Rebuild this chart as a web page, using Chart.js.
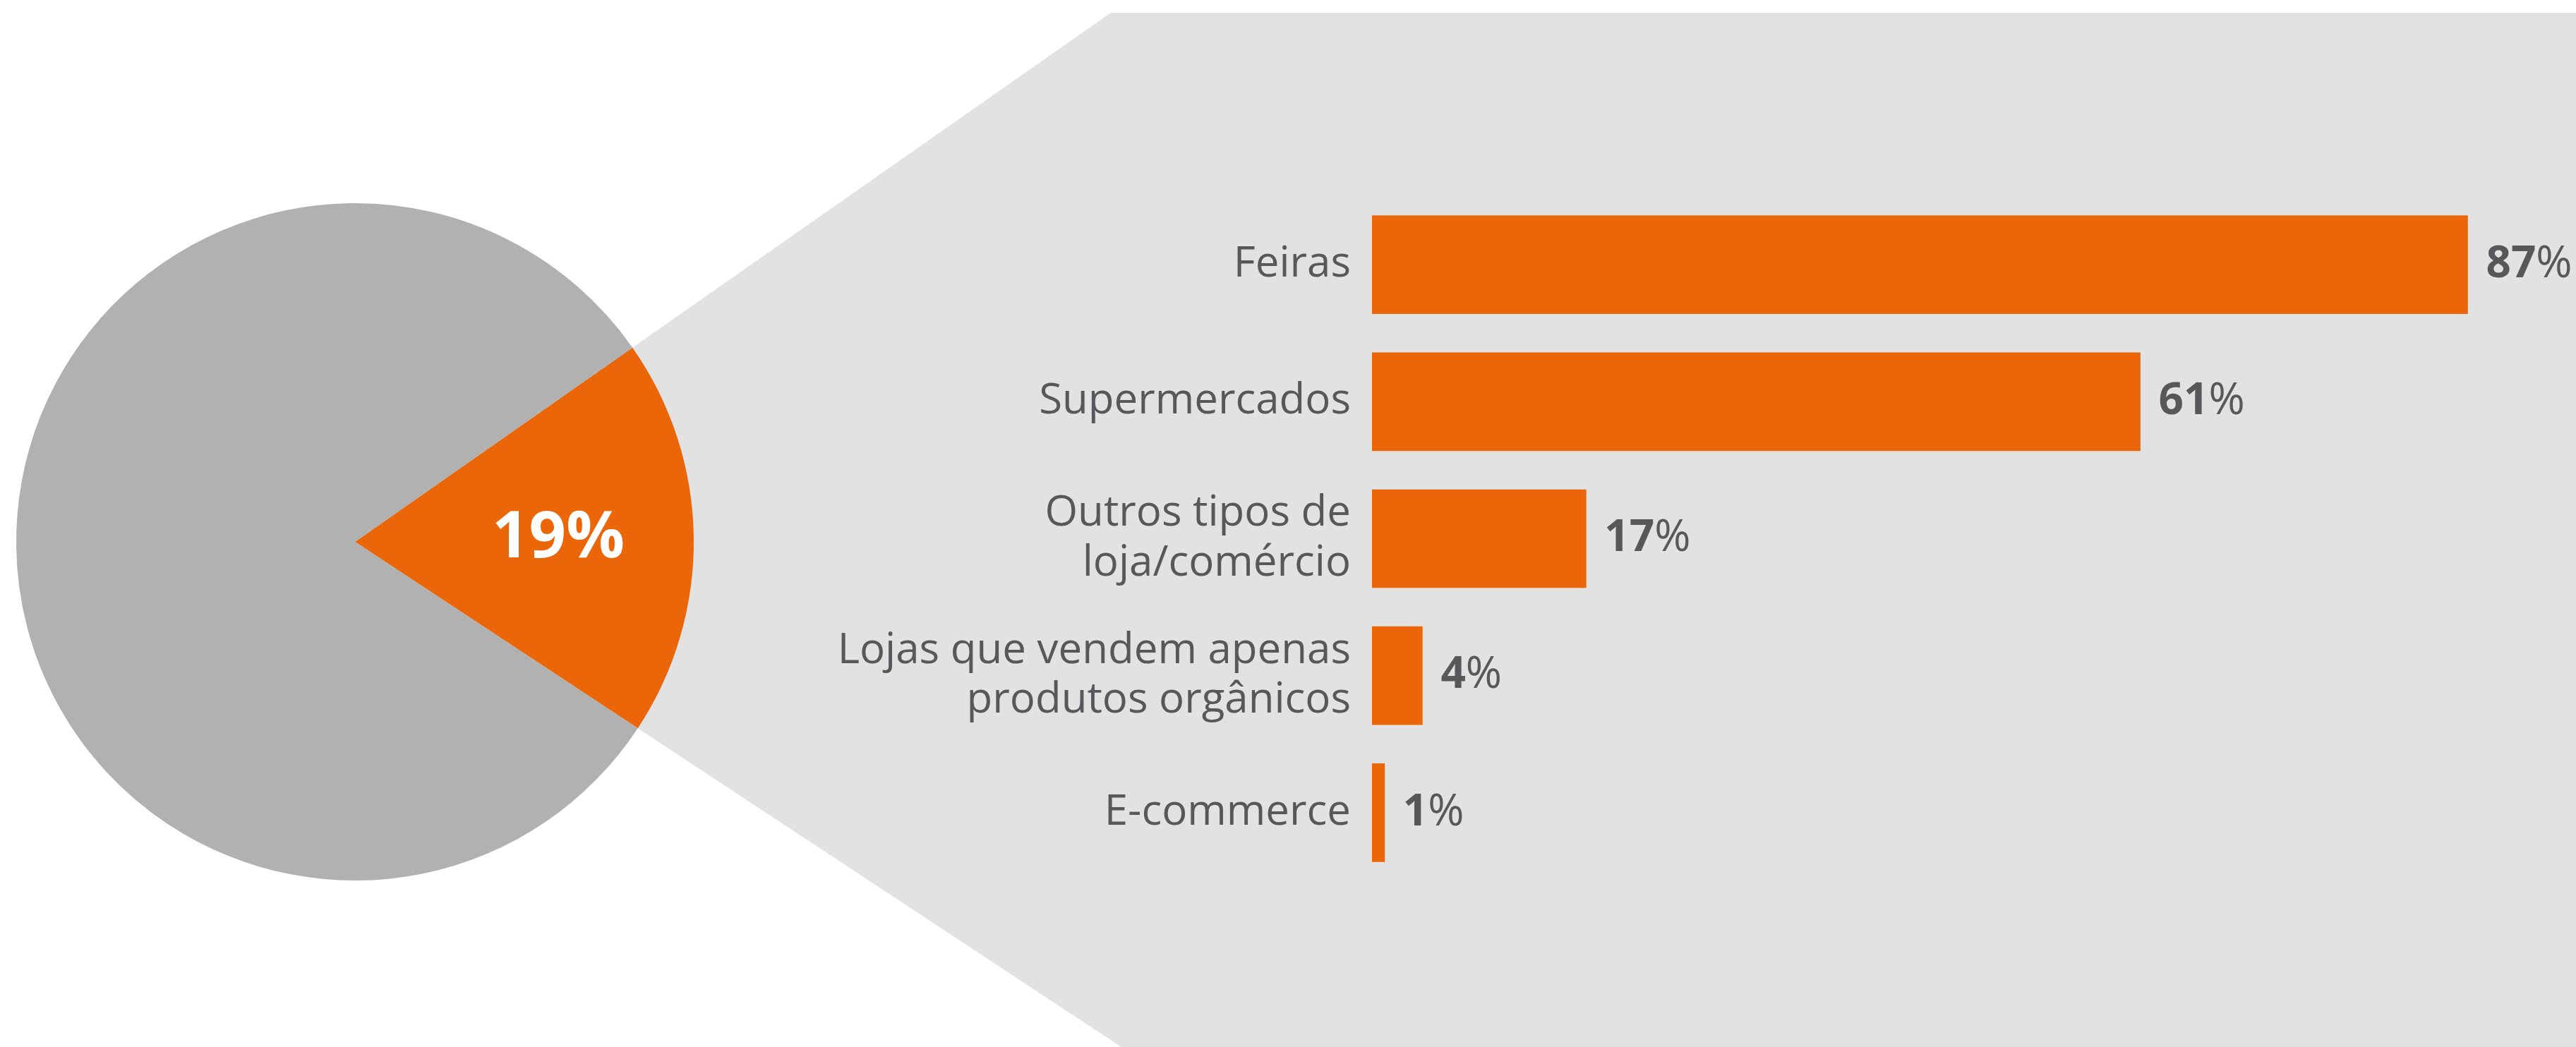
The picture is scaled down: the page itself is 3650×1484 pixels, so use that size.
<!DOCTYPE html>
<html>
<head>
<meta charset="utf-8">
<script src="https://cdn.jsdelivr.net/npm/chart.js@4"></script>
<style>
  html, body { margin: 0; padding: 0; background: #fff; }
  #wrap { position: relative; width: 3650px; height: 1484px; overflow: hidden; }
  canvas { position: absolute; top: 0; }
  #pieChart { left: 0; }
  #barChart { left: 1100px; }
</style>
</head>
<body>
<div id="wrap">
  <canvas id="pieChart" width="3650" height="1484"></canvas>
  <canvas id="barChart" width="2550" height="1484"></canvas>
</div>
<script>
/* data */
const pieLabels = ['Sim', 'Não'];
const pieValues = [19, 81];
const barLabels = [
  ['Feiras'],
  ['Supermercados'],
  ['Outros tipos de', 'loja/comércio'],
  ['Lojas que vendem apenas', 'produtos orgânicos'],
  ['E-commerce'],
];
const barValues = [87, 61, 17, 4, 1];

const ORANGE = '#eb6608';
const PIE_GREY = '#b1b1b1';
const BG_GREY = '#e2e2e2';
const TEXT = '#58585a';
const FONT = '"Open Sans", Lato, sans-serif';

/* grey wedge behind the bars, continuing the orange slice edges */
const wedgeBg = {
  id: 'wedgeBg',
  beforeDatasetsDraw(chart) {
    const arc = chart.getDatasetMeta(0).data[0];
    const { x, y, startAngle, endAngle } = arc.getProps(['x', 'y', 'startAngle', 'endAngle'], true);
    const { ctx, width, height } = chart;
    const top = 18;
    const t1 = (top - y) / Math.sin(startAngle);
    const t2 = (height - y) / Math.sin(endAngle);
    ctx.save();
    ctx.fillStyle = BG_GREY;
    ctx.beginPath();
    ctx.moveTo(x, y);
    ctx.lineTo(x + Math.cos(startAngle) * t1, top);
    ctx.lineTo(width, top);
    ctx.lineTo(width, height);
    ctx.lineTo(x + Math.cos(endAngle) * t2, height);
    ctx.closePath();
    ctx.fill();
    ctx.restore();
  },
  afterDatasetsDraw(chart) {
    const arc = chart.getDatasetMeta(0).data[0];
    const { x, y, startAngle, endAngle, outerRadius } =
      arc.getProps(['x', 'y', 'startAngle', 'endAngle', 'outerRadius'], true);
    const mid = (startAngle + endAngle) / 2;
    const ctx = chart.ctx;
    ctx.save();
    ctx.fillStyle = '#fff';
    ctx.font = `bold 92px ${FONT}`;
    ctx.textAlign = 'center';
    ctx.textBaseline = 'middle';
    ctx.fillText(pieValues[0] + '%', x + Math.cos(mid) * outerRadius * 0.6, y + Math.sin(mid) * outerRadius * 0.6);
    ctx.restore();
  },
};

new Chart(document.getElementById('pieChart'), {
  type: 'pie',
  data: {
    labels: pieLabels,
    datasets: [{
      data: pieValues,
      backgroundColor: [ORANGE, PIE_GREY],
      borderWidth: 0,
    }],
  },
  options: {
    responsive: false,
    animation: false,
    rotation: 55,
    layout: { padding: { left: 23, right: 2667, top: 288, bottom: 236 } },
    plugins: { legend: { display: false }, tooltip: { enabled: false } },
  },
  plugins: [wedgeBg],
});

/* value labels at the end of each bar: bold number, regular % */
const valueLabels = {
  id: 'valueLabels',
  afterDatasetsDraw(chart) {
    const ctx = chart.ctx;
    ctx.save();
    ctx.fillStyle = TEXT;
    ctx.textBaseline = 'middle';
    ctx.textAlign = 'left';
    chart.getDatasetMeta(0).data.forEach((bar, i) => {
      const num = String(barValues[i]);
      let x = bar.x + 26;
      ctx.font = `bold 62px ${FONT}`;
      ctx.fillText(num, x, bar.y);
      x += ctx.measureText(num).width;
      ctx.font = `62px ${FONT}`;
      ctx.fillText('%', x, bar.y);
    });
    ctx.restore();
  },
};

new Chart(document.getElementById('barChart'), {
  type: 'bar',
  data: {
    labels: barLabels,
    datasets: [{
      data: barValues,
      backgroundColor: ORANGE,
      barThickness: 139,
      borderWidth: 0,
    }],
  },
  options: {
    indexAxis: 'y',
    responsive: false,
    animation: false,
    layout: { padding: { left: 0, right: 100, top: 278, bottom: 235 } },
    plugins: { legend: { display: false }, tooltip: { enabled: false } },
    scales: {
      x: { display: false, min: 0, max: 90 },
      y: {
        grid: { display: false, drawTicks: false },
        border: { display: false },
        ticks: {
          color: TEXT,
          padding: 30,
          font: { family: FONT, size: 60, lineHeight: 1.17 },
        },
        afterFit(scale) { scale.width = 844; },
      },
    },
  },
  plugins: [valueLabels],
});
</script>
</body>
</html>
